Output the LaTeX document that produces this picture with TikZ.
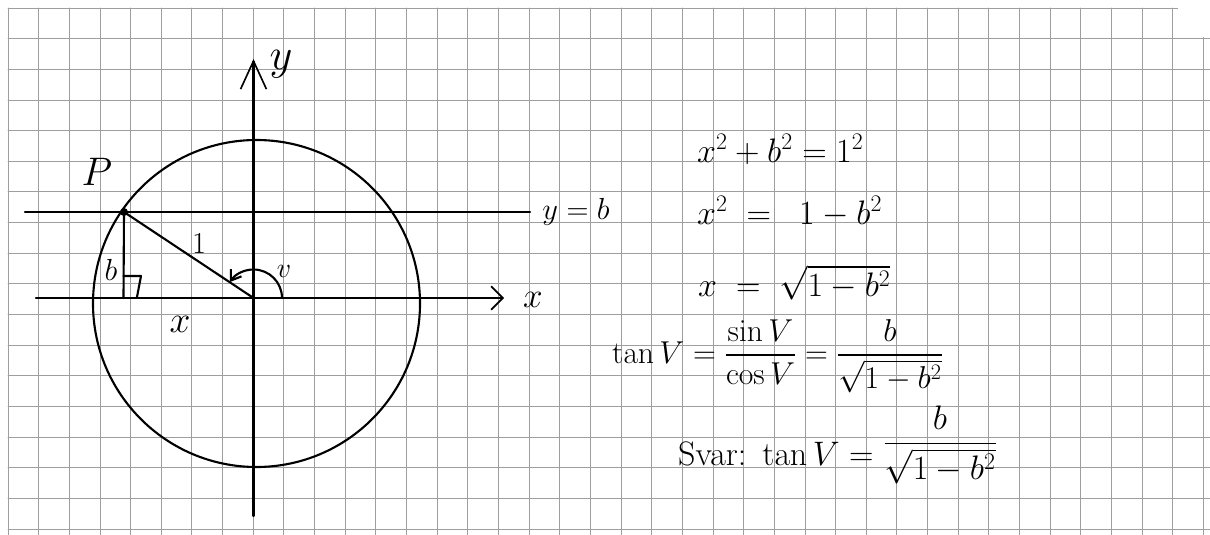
\RequirePackage{fix-cm}
\documentclass[tikz,border=0pt]{standalone}
\usepackage{amsmath}
\usepackage{amssymb}
\usetikzlibrary{arrows.meta}
\begin{document}
\begin{tikzpicture}[x=0.03cm,y=-0.03cm,line cap=round,line join=round,
  gridline/.style={black!38,line width=0.7pt},
  pen/.style={line width=1.8pt},
  eqn/.style={font=\fontsize{29}{34}\selectfont,inner sep=0pt,anchor=base west},
  lbl/.style={font=\fontsize{26}{30}\selectfont,inner sep=0pt},
  biglbl/.style={font=\fontsize{38}{42}\selectfont,inner sep=0pt}]
\useasboundingbox (0,0) rectangle (1210,535);
\fill[white] (0,0) rectangle (1210,535);
% squared paper
\foreach \i in {0,...,39}
  \draw[gridline] ({8+30.65*\i},8) -- ({8+30.65*\i},535);
\foreach \j in {0,...,17}
  \draw[gridline] (8,{8+30.65*\j}) -- (1210,{8+30.65*\j});
\fill[white] (1178,0) rectangle (1210,37.5);
% points
\coordinate (O) at (253.5,298);
\coordinate (C) at (256.5,303.5);
\coordinate (P) at (124,212);
\coordinate (F) at (123.5,298);
\coordinate (xstart) at (36,298);
\coordinate (xend) at (504,298);
\coordinate (ystart) at (253.5,516);
\coordinate (yend) at (253.5,59);
\coordinate (bstart) at (25,212);
\coordinate (bend) at (530,212);
% unit circle and axes
\draw[pen] (C) circle[radius=163.5];
\draw[pen,-{Straight Barb[length=10pt,width=20pt,line width=1.4pt]}] (xstart) -- (xend);
\draw[pen,-{Straight Barb[length=24pt,width=22pt,line width=1.4pt]}] (ystart) -- (yend);
\draw[pen] (bstart) -- (bend);
% P, the height b and the radius
\fill (P) circle[radius=4];
\draw[pen] (P) -- (F);
\draw[pen] (P) -- (O);
\draw[pen] (F) ++(0,-22) -- ++(17.5,0) -- ++(-4,21);
\draw[pen,-{Straight Barb[length=8pt,width=11pt]}] (O) ++(28.5,0) arc[start angle=0,end angle=-146,radius=28.5];
% labels
\node[biglbl] (ylab) at (281,64) {$y$};
\node[lbl,font=\fontsize{30}{34}\selectfont] (xlab) at (533,300) {$x$};
\node[biglbl,font=\fontsize{34}{38}\selectfont] (plab) at (97,172) {$P$};
\node[lbl] (ylinelab) at (576,212) {$y=b$};
\node[lbl] (blab) at (111,270) {$b$};
\node[lbl] (onelab) at (199,244) {$1$};
\node[lbl,font=\fontsize{24}{28}\selectfont] (vlab) at (284,271) {$v$};
\node[lbl,font=\fontsize{32}{36}\selectfont] (xseg) at (180,324) {$x$};
% working
\node[eqn] (eqa) at (697,162) {$x^2+b^2=1^2$};
\node[eqn] (eqb) at (697,224) {$x^2\;=\;\;1-b^2$};
\node[eqn] (eqc) at (698,296) {$x\;=\;\sqrt{1-b^2}$};
\node[eqn,font=\fontsize{27}{32}\selectfont] (eqd) at (612,363) {$\tan V=\dfrac{\sin V}{\cos V}=\dfrac{b}{\sqrt{1-b^2}}$};
\node[eqn] (eqe) at (678,465) {$\text{Svar:}\ \tan V=\raisebox{11pt}{$\dfrac{b}{\sqrt{1-b^2}}$}$};
\end{tikzpicture}
\end{document}
